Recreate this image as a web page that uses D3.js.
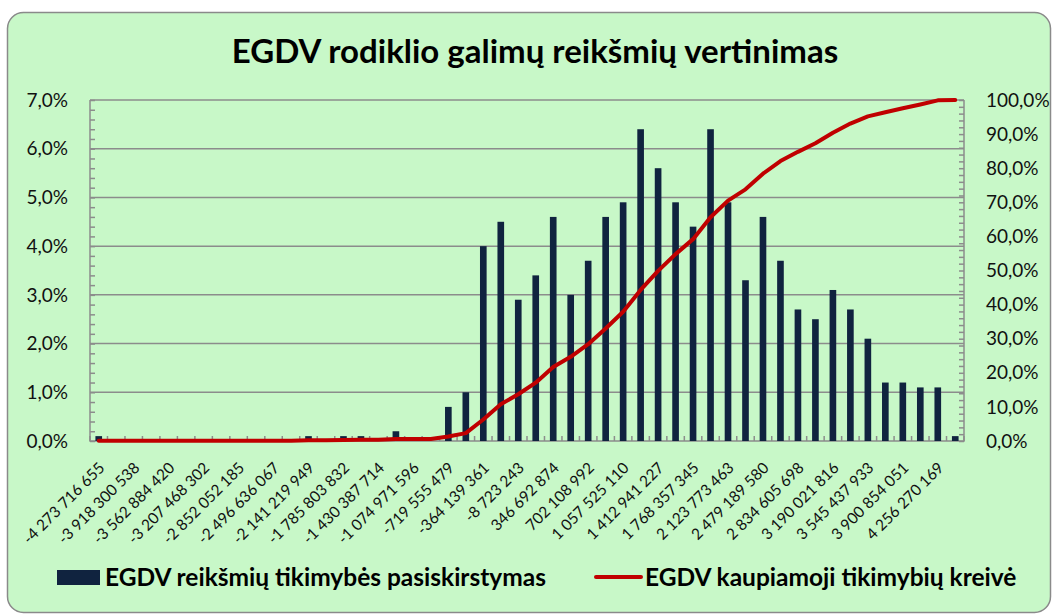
<!DOCTYPE html>
<html>
<head>
<meta charset="utf-8">
<script src="https://cdn.jsdelivr.net/npm/d3@7"></script>
<style>
    body { margin: 0; background: #fff; }
    svg { display: block; font-family: Lato, 'Open Sans', sans-serif; }
    .grid line { stroke: #8c8c8c; stroke-width: 1.5; }
    .axis path, .axis line { stroke: #8c8c8c; stroke-width: 1.5; }
    .tick-label { font-size: 19px; fill: #111; }
    .cat-label { font-size: 15.5px; fill: #111; }
</style>
</head>
<body>
<div id="chart-container"></div>
<script>

// category labels on the x axis (only every second one is printed)
var categories = [
    '-4 273 716 655', '', '-3 918 300 538', '', '-3 562 884 420', '',
    '-3 207 468 302', '', '-2 852 052 185', '', '-2 496 636 067', '',
    '-2 141 219 949', '', '-1 785 803 832', '', '-1 430 387 714', '',
    '-1 074 971 596', '', '-719 555 479', '', '-364 139 361', '',
    '-8 723 243', '', '346 692 874', '', '702 108 992', '',
    '1 057 525 110', '', '1 412 941 227', '', '1 768 357 345', '',
    '2 123 773 463', '', '2 479 189 580', '', '2 834 605 698', '',
    '3 190 021 816', '', '3 545 437 933', '', '3 900 854 051', '',
    '4 256 270 169', ''
];

// probability per category, %
var probability = [
    0.1, 0, 0, 0, 0, 0, 0, 0, 0, 0,
    0, 0, 0.1, 0, 0.1, 0.1, 0, 0.2, 0, 0,
    0.7, 1.0, 4.0, 4.5, 2.9, 3.4, 4.6, 3.0, 3.7, 4.6,
    4.9, 6.4, 5.6, 4.9, 4.4, 6.4, 4.9, 3.3, 4.6, 3.7,
    2.7, 2.5, 3.1, 2.7, 2.1, 1.2, 1.2, 1.1, 1.1, 0.1
];

// cumulative probability curve, %
var cumulative = [
    0.1, 0.1, 0.1, 0.1, 0.1, 0.1, 0.1, 0.1, 0.1, 0.1,
    0.1, 0.1, 0.2, 0.2, 0.3, 0.4, 0.4, 0.6, 0.6, 0.6,
    1.3, 2.3, 6.3, 10.8, 13.7, 17.1, 21.7, 24.7, 28.4, 33.0,
    37.9, 44.3, 49.9, 54.8, 59.2, 65.6, 70.5, 73.8, 78.4, 82.1,
    84.8, 87.3, 90.4, 93.1, 95.2, 96.4, 97.6, 98.7, 99.9, 100.0
];

var leftTicks = [0, 1, 2, 3, 4, 5, 6, 7];
var rightTicks = [0, 10, 20, 30, 40, 50, 60, 70, 80, 90, 100];

var titleText = 'EGDV rodiklio galimų reikšmių vertinimas';
var barSeriesName = 'EGDV reikšmių tikimybės pasiskirstymas';
var lineSeriesName = 'EGDV kaupiamoji tikimybių kreivė';

var _width = 1052,
    _height = 614,
    _plotLeft = 90,
    _plotRight = 964,
    _plotTop = 100,
    _plotBottom = 441,
    _barColor = '#10233f',
    _lineColor = '#c00000',
    _bgColor = '#c8f8c8';

var fmt = function (v) { return d3.format('.1f')(v).replace('.', ',') + '%'; };

var svg = d3.select('#chart-container').append('svg')
    .attr('width', _width)
    .attr('height', _height);

// FRAME
// ----------------------------------------------------------------
svg.append('rect')
    .attr('x', 7.5).attr('y', 12.5)
    .attr('width', 1043).attr('height', 600)
    .attr('rx', 16).attr('ry', 16)
    .attr('fill', _bgColor)
    .attr('stroke', '#8a8a8a')
    .attr('stroke-width', 1.5);

svg.append('text')
    .attr('x', 535).attr('y', 63)
    .attr('text-anchor', 'middle')
    .style('font-size', '33px')
    .style('font-weight', 'bold')
    .text(titleText);

// SCALES
// ----------------------------------------------------------------
var x = d3.scaleBand()
    .domain(d3.range(categories.length))
    .range([_plotLeft, _plotRight])
    .paddingInner(0.62)
    .paddingOuter(0.31);

var yLeft = d3.scaleLinear().domain([0, 7]).range([_plotBottom, _plotTop]);
var yRight = d3.scaleLinear().domain([0, 100]).range([_plotBottom, _plotTop]);

// GRID + AXES
// ----------------------------------------------------------------
svg.append('g').attr('class', 'grid')
    .selectAll('line').data(leftTicks.slice(1)).enter().append('line')
    .attr('x1', _plotLeft).attr('x2', _plotRight)
    .attr('y1', function (d) { return yLeft(d); })
    .attr('y2', function (d) { return yLeft(d); });

// minor ticks, pointing into the plot
var gLeft = svg.append('g').attr('class', 'axis')
    .attr('transform', 'translate(' + _plotLeft + ',0)')
    .call(d3.axisRight(yLeft).ticks(35).tickSize(5).tickFormat(''));
gLeft.select('.domain').remove();

var gRight = svg.append('g').attr('class', 'axis')
    .attr('transform', 'translate(' + _plotRight + ',0)')
    .call(d3.axisLeft(yRight).ticks(50).tickSize(5).tickFormat(''));
gRight.select('.domain').remove();

var gBottom = svg.append('g').attr('class', 'axis')
    .attr('transform', 'translate(0,' + _plotBottom + ')');
gBottom.selectAll('line').data(d3.range(categories.length + 1)).enter().append('line')
    .attr('x1', function (i) { return _plotLeft + i * x.step(); })
    .attr('x2', function (i) { return _plotLeft + i * x.step(); })
    .attr('y1', 0).attr('y2', -5);

svg.append('g').attr('class', 'axis')
    .append('path')
    .attr('fill', 'none')
    .attr('d', 'M' + _plotLeft + ',' + _plotTop + 'V' + _plotBottom + 'H' + _plotRight + 'V' + _plotTop);

svg.append('g').selectAll('text').data(leftTicks).enter().append('text')
    .attr('class', 'tick-label')
    .attr('x', 68)
    .attr('y', function (d) { return yLeft(d); })
    .attr('dy', '0.35em')
    .attr('text-anchor', 'end')
    .text(fmt);

svg.append('g').selectAll('text').data(rightTicks).enter().append('text')
    .attr('class', 'tick-label')
    .attr('x', 986)
    .attr('y', function (d) { return yRight(d); })
    .attr('dy', '0.35em')
    .text(fmt);

svg.append('g').selectAll('text').data(categories).enter().append('text')
    .attr('class', 'cat-label')
    .attr('text-anchor', 'end')
    .attr('dy', '0.35em')
    .attr('transform', function (d, i) {
        return 'translate(' + (x(i) + x.bandwidth() / 2 + 3) + ',465) rotate(-45)';
    })
    .text(function (d) { return d; });

// BARS
// ----------------------------------------------------------------
svg.append('g').selectAll('rect').data(probability).enter().append('rect')
    .attr('x', function (d, i) { return x(i); })
    .attr('y', function (d) { return yLeft(d); })
    .attr('width', x.bandwidth())
    .attr('height', function (d) { return _plotBottom - yLeft(d); })
    .attr('fill', _barColor);

// CUMULATIVE LINE
// ----------------------------------------------------------------
var line = d3.line()
    .x(function (d, i) { return x(i) + x.bandwidth() / 2; })
    .y(function (d) { return yRight(d); });

svg.append('path')
    .datum(cumulative)
    .attr('d', line)
    .attr('fill', 'none')
    .attr('stroke', _lineColor)
    .attr('stroke-width', 4)
    .attr('stroke-linejoin', 'round')
    .attr('stroke-linecap', 'round');

// LEGEND
// ----------------------------------------------------------------
var gLegend = svg.append('g').style('font-size', '24.5px').style('font-weight', 'bold');

gLegend.append('rect')
    .attr('x', 57).attr('y', 570)
    .attr('width', 43).attr('height', 15)
    .attr('fill', _barColor);
gLegend.append('text').attr('x', 105).attr('y', 586).text(barSeriesName);

gLegend.append('line')
    .attr('x1', 596).attr('x2', 641)
    .attr('y1', 577).attr('y2', 577)
    .attr('stroke', _lineColor)
    .attr('stroke-width', 4)
    .attr('stroke-linecap', 'round');
gLegend.append('text').attr('x', 645).attr('y', 586).text(lineSeriesName);

</script>
</body>
</html>
